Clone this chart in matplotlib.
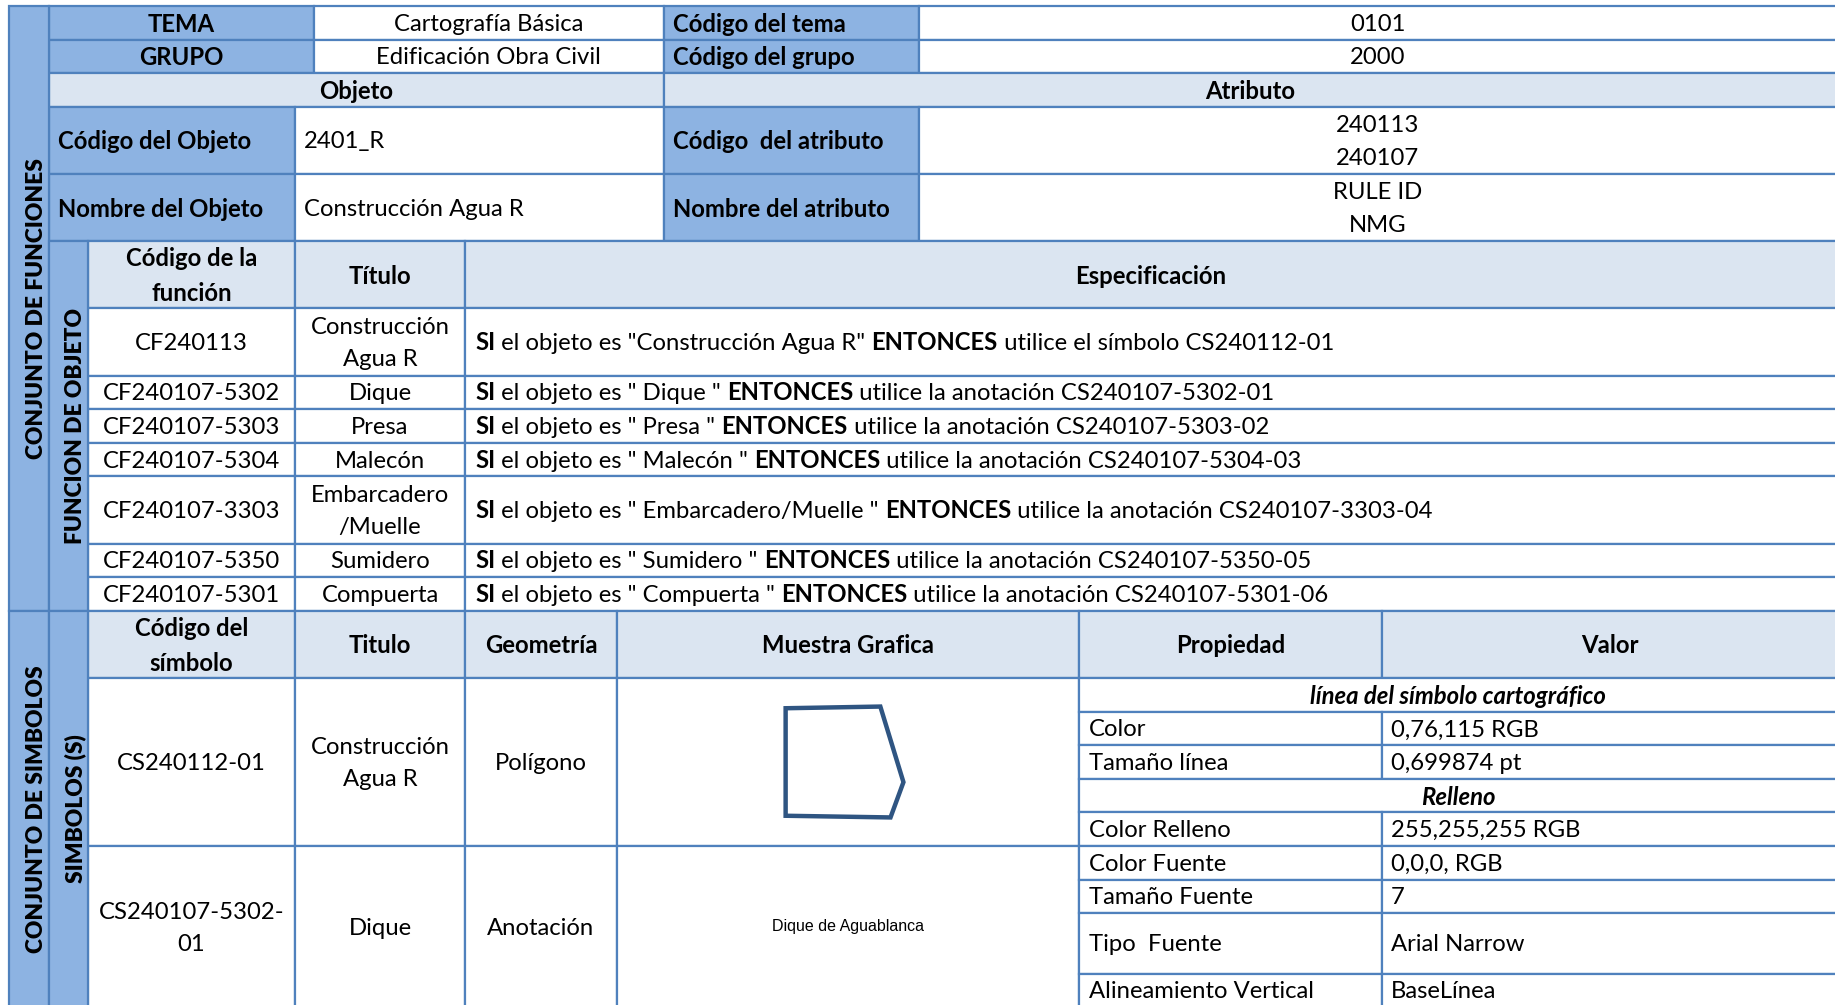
import matplotlib.pyplot as plt
from matplotlib.patches import Rectangle, Polygon

plt.rcParams['font.family'] = ['Lato', 'DejaVu Sans']

# ---- contenido de la tabla ----
tema = "Cartografía Básica"
grupo = "Edificación Obra Civil"
codigo_tema = "0101"
codigo_grupo = "2000"
codigo_objeto = "2401_R"
nombre_objeto = "Construcción Agua R"
codigos_atributo = ["240113", "240107"]
nombres_atributo = ["RULE ID", "NMG"]

func_codigos = ["CF240113", "CF240107-5302", "CF240107-5303", "CF240107-5304",
                "CF240107-3303", "CF240107-5350", "CF240107-5301"]
func_titulos = ["Construcción\nAgua R", "Dique", "Presa", "Malecón",
                "Embarcadero\n/Muelle", "Sumidero", "Compuerta"]
func_objetos = ['"Construcción Agua R"', '" Dique "', '" Presa "', '" Malecón "',
                '" Embarcadero/Muelle "', '" Sumidero "', '" Compuerta "']
func_accion = ["el símbolo", "la anotación", "la anotación", "la anotación",
               "la anotación", "la anotación", "la anotación"]
func_simbolos = ["CS240112-01", "CS240107-5302-01", "CS240107-5303-02", "CS240107-5304-03",
                 "CS240107-3303-04", "CS240107-5350-05", "CS240107-5301-06"]

sim_codigos = ["CS240112-01", "CS240107-5302-\n01"]
sim_titulos = ["Construcción\nAgua R", "Dique"]
sim_geometrias = ["Polígono", "Anotación"]
sim_anotacion = "Dique de Aguablanca"
# forma de la muestra grafica (relativa a la celda)
muestra_x = [0.365, 0.57, 0.62, 0.592, 0.365]
muestra_y = [0.18, 0.17, 0.62, 0.83, 0.82]

prop_nombres = ["línea del símbolo cartográfico", "Color", "Tamaño línea", "Relleno",
                "Color Relleno", "Color Fuente", "Tamaño Fuente", "Tipo  Fuente",
                "Alineamiento Vertical"]
prop_valores = [None, "0,76,115 RGB", "0,699874 pt", None, "255,255,255 RGB",
                "0,0,0, RGB", "7", "Arial Narrow", "BaseLínea"]
prop_alto = [1, 1, 1, 1, 1, 1, 1, 1.8, 1]
prop_por_simbolo = [5, 4]

# ---- estilo / layout ----
LINE = '#4f81bd'
LAB = '#8db3e2'
HEAD = '#dbe5f1'
FS = 17.2
LS = 1.65
DY = 1.5
U = 33.6
LW = 1.6
BFS = 16.4

X0, XB1, XB2 = 9, 49, 88
X_TEMA = 314
X_OBJ = 295
X_TIT = 465
X_GEO = 617
X_ATR = 663.5
X_VAL = 918.7
X_PROP = 1079
X_VALOR = 1382
X_R = 1837
Y0 = 6

fig = plt.figure(figsize=(18.35, 10.05), dpi=100)
ax = fig.add_axes([0, 0, 1, 1])
ax.set_xlim(0, 1835)
ax.set_ylim(1005, 0)
ax.axis('off')
renderer = fig.canvas.get_renderer()


def cell(x0, x1, y0, y1, fill='white'):
    ax.add_patch(Rectangle((x0, y0), x1 - x0, y1 - y0, facecolor=fill,
                           edgecolor=LINE, lw=LW, zorder=1))


def put(x, y, s, ha='center', bold=False, **kw):
    kw.setdefault('size', FS)
    kw.setdefault('fontweight', 'bold' if bold else 'normal')
    return ax.text(x, y + DY, s, ha=ha, va='center', multialignment='center',
                   linespacing=LS, zorder=3, **kw)


def width(s, bold=False):
    def w(t):
        tt = ax.text(0, 0, t, size=FS, fontweight='bold' if bold else 'normal')
        bw = tt.get_window_extent(renderer).width
        tt.remove()
        return bw
    return w('x' + s + 'x') - w('xx')


# desplazamiento centro -> linea base
_t = ax.text(0, 500, "lp", size=FS, va='baseline')
_bb = _t.get_window_extent(renderer)
BASE_OFF = _bb.height / 2 - ((1005 - 500) - _bb.y0)
_t.remove()


def rich(x, yc, parts):
    for s, b in parts:
        ax.text(x, yc + DY + BASE_OFF, s, ha='left', va='baseline', size=FS,
                fontweight='bold' if b else 'normal', zorder=3)
        x += width(s, b)


# ---- cabecera ----
y = Y0
cell(XB1, X_TEMA, y, y + U, LAB); put((XB1 + X_TEMA) / 2, y + U / 2, "TEMA", bold=True)
cell(X_TEMA, X_ATR, y, y + U); put((X_TEMA + X_ATR) / 2, y + U / 2, tema)
cell(X_ATR, X_VAL, y, y + U, LAB); put(X_ATR + 9, y + U / 2, "Código del tema", ha='left', bold=True)
cell(X_VAL, X_R, y, y + U); put((X_VAL + X_R) / 2, y + U / 2, codigo_tema)
y += U
cell(XB1, X_TEMA, y, y + U, LAB); put((XB1 + X_TEMA) / 2, y + U / 2, "GRUPO", bold=True)
cell(X_TEMA, X_ATR, y, y + U); put((X_TEMA + X_ATR) / 2, y + U / 2, grupo)
cell(X_ATR, X_VAL, y, y + U, LAB); put(X_ATR + 9, y + U / 2, "Código del grupo", ha='left', bold=True)
cell(X_VAL, X_R, y, y + U); put((X_VAL + X_R) / 2, y + U / 2, codigo_grupo)
y += U
cell(XB1, X_ATR, y, y + U, HEAD); put((XB1 + X_ATR) / 2, y + U / 2, "Objeto", bold=True)
cell(X_ATR, X_R, y, y + U, HEAD); put((X_ATR + X_R) / 2, y + U / 2, "Atributo", bold=True)
y += U
for lab, val, lab2, vals in [("Código del Objeto", codigo_objeto, "Código  del atributo", codigos_atributo),
                             ("Nombre del Objeto", nombre_objeto, "Nombre del atributo", nombres_atributo)]:
    h = 2 * U
    cell(XB1, X_OBJ, y, y + h, LAB); put(XB1 + 9, y + h / 2, lab, ha='left', bold=True)
    cell(X_OBJ, X_ATR, y, y + h); put(X_OBJ + 9, y + h / 2, val, ha='left')
    cell(X_ATR, X_VAL, y, y + h, LAB); put(X_ATR + 9, y + h / 2, lab2, ha='left', bold=True)
    cell(X_VAL, X_R, y, y + h)
    for i, v in enumerate(vals):
        put((X_VAL + X_R) / 2, y + U * (i + 0.5), v)
    y += h

# ---- funciones ----
y_func = y
h = 2 * U
cell(XB2, X_OBJ, y, y + h, HEAD); put((XB2 + X_OBJ) / 2, y + h / 2, "Código de la\nfunción", bold=True)
cell(X_OBJ, X_TIT, y, y + h, HEAD); put((X_OBJ + X_TIT) / 2, y + h / 2, "Título", bold=True)
cell(X_TIT, X_R, y, y + h, HEAD); put((X_TIT + X_R) / 2, y + h / 2, "Especificación", bold=True)
y += h
for cod, tit, obj, acc, sim in zip(func_codigos, func_titulos, func_objetos, func_accion, func_simbolos):
    h = U * (tit.count('\n') + 1)
    cell(XB2, X_OBJ, y, y + h); put((XB2 + X_OBJ) / 2, y + h / 2, cod)
    cell(X_OBJ, X_TIT, y, y + h); put((X_OBJ + X_TIT) / 2, y + h / 2, tit)
    cell(X_TIT, X_R, y, y + h)
    rich(X_TIT + 10, y + h / 2, [("SI", True), (" el objeto es " + obj + " ", False),
                                 ("ENTONCES", True), (" utilice " + acc + " " + sim, False)])
    y += h
y_sim = y

# bandas laterales (funciones)
cell(X0, XB1, Y0, y_sim, LAB)
cell(XB1, XB2, y_func, y_sim, LAB)
put(36.5, (Y0 + y_sim) / 2 - DY, "CONJUNTO DE FUNCIONES", fontweight='heavy', rotation=90, size=BFS)
put(75.5, (y_func + y_sim) / 2 - DY, "FUNCION DE OBJETO", fontweight='heavy', rotation=90, size=BFS)

# ---- simbolos ----
h = 2 * U
heads = [(XB2, X_OBJ, "Código del\nsímbolo"), (X_OBJ, X_TIT, "Titulo"), (X_TIT, X_GEO, "Geometría"),
         (X_GEO, X_PROP, "Muestra Grafica"), (X_PROP, X_VALOR, "Propiedad"), (X_VALOR, X_R, "Valor")]
for a, b, s in heads:
    cell(a, b, y, y + h, HEAD); put((a + b) / 2, y + h / 2, s, bold=True)
y += h

k = 0
for i, (cod, tit, geo) in enumerate(zip(sim_codigos, sim_titulos, sim_geometrias)):
    n = prop_por_simbolo[i]
    hs = sum(prop_alto[k:k + n]) * U
    hs_vis = hs if i == 0 else hs + 1.4
    cell(XB2, X_OBJ, y, y + hs_vis); put((XB2 + X_OBJ) / 2, y + hs / 2, cod)
    cell(X_OBJ, X_TIT, y, y + hs_vis); put((X_OBJ + X_TIT) / 2, y + hs / 2, tit)
    cell(X_TIT, X_GEO, y, y + hs_vis); put((X_TIT + X_GEO) / 2, y + hs / 2, geo)
    cell(X_GEO, X_PROP, y, y + hs_vis)
    if geo == "Polígono":
        px = [X_GEO + fx * (X_PROP - X_GEO) for fx in muestra_x]
        py = [y + fy * hs for fy in muestra_y]
        ax.add_patch(Polygon(list(zip(px, py)), closed=True, facecolor='white',
                             edgecolor='#2f5582', lw=3.2, joinstyle='miter', zorder=2))
    else:
        ax.text((X_GEO + X_PROP) / 2, y + hs / 2, sim_anotacion, ha='center', va='center',
                size=11.5, family=['Liberation Sans Narrow', 'Liberation Sans'], zorder=3)
    yy = y
    for j in range(k, k + n):
        hp = prop_alto[j] * U
        if prop_valores[j] is None:
            cell(X_PROP, X_R, yy, yy + hp)
            put((X_PROP + X_R) / 2, yy + hp / 2, prop_nombres[j], bold=True, style='italic')
        else:
            cell(X_PROP, X_VALOR, yy, yy + hp); put(X_PROP + 10, yy + hp / 2, prop_nombres[j], ha='left')
            cell(X_VALOR, X_R, yy, yy + hp); put(X_VALOR + 9, yy + hp / 2, prop_valores[j], ha='left')
        yy += hp
    k += n
    y += hs

# bandas laterales (simbolos)
y_end = y
cell(X0, XB1, y_sim, y_end + 2, LAB)
cell(XB1, XB2, y_sim, y_end + 2, LAB)
put(36.5, (y_sim + y_end) / 2 - DY, "CONJUNTO DE SIMBOLOS", fontweight='heavy', rotation=90, size=BFS)
put(75.5, (y_sim + y_end) / 2 - DY, "SIMBOLOS (S)", fontweight='heavy', rotation=90, size=BFS)

fig.savefig("out.png", dpi=100)
